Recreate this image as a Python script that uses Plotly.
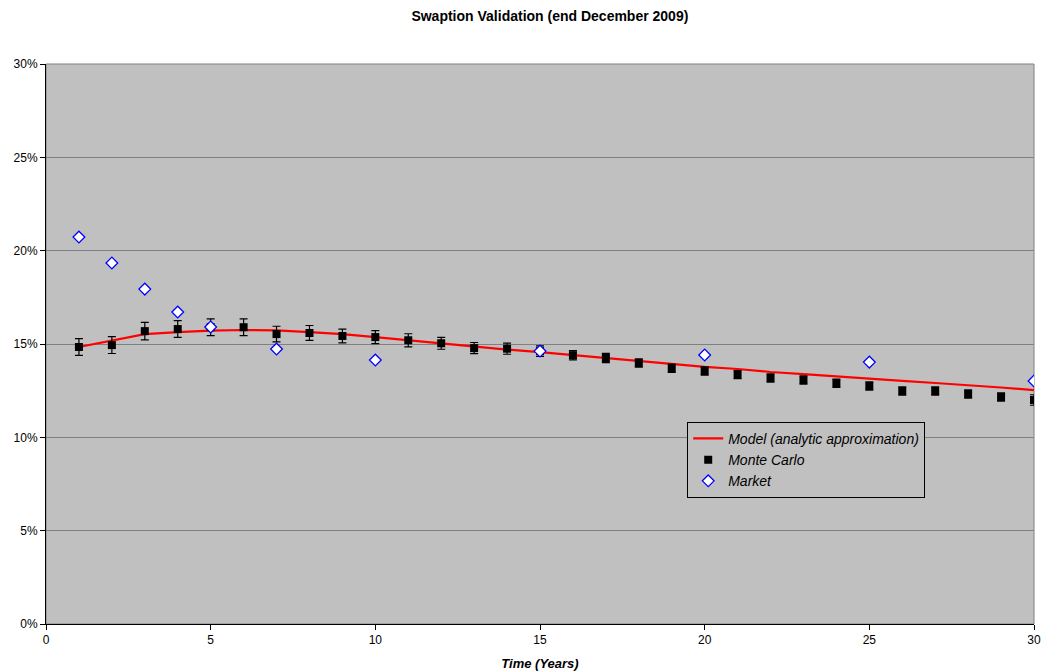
import plotly.graph_objects as go

years = list(range(1, 31))
model = [14.84, 15.20, 15.53, 15.64, 15.72, 15.75, 15.73, 15.64, 15.53, 15.37,
         15.20, 15.02, 14.86, 14.70, 14.57, 14.41, 14.25, 14.09, 13.93, 13.77,
         13.66, 13.50, 13.39, 13.26, 13.12, 13.02, 12.91, 12.80, 12.67, 12.53]
mc = [14.84, 14.94, 15.69, 15.80, 15.90, 15.90, 15.53, 15.59, 15.43, 15.37,
      15.20, 15.04, 14.78, 14.75, 14.62, 14.40, 14.25, 13.98, 13.70, 13.55,
      13.36, 13.18, 13.07, 12.90, 12.75, 12.48, 12.48, 12.32, 12.16, 12.00]
mc_err = [0.45, 0.45, 0.47, 0.45, 0.45, 0.45, 0.42, 0.40, 0.37, 0.35,
          0.35, 0.32, 0.30, 0.30, 0.28, 0.25, 0.25, 0.22, 0.22, 0.22,
          0.22, 0.22, 0.22, 0.22, 0.22, 0.22, 0.22, 0.22, 0.22, 0.28]
mkt_years = [1, 2, 3, 4, 5, 7, 10, 15, 20, 25, 30]
mkt = [20.73, 19.34, 17.94, 16.71, 15.91, 14.73, 14.14, 14.62, 14.41, 14.03, 13.02]

fig = go.Figure()
fig.add_trace(go.Scatter(x=years, y=model, mode="lines", name="Model (analytic approximation)",
                         line=dict(color="#FF0000", width=2.2)))
fig.add_trace(go.Scatter(x=years, y=mc, mode="markers", name="Monte Carlo",
                         marker=dict(symbol="square", size=8, color="black"),
                         error_y=dict(type="data", array=mc_err, visible=True,
                                      color="black", thickness=1.2, width=4)))
fig.add_trace(go.Scatter(x=mkt_years, y=mkt, mode="markers", name="Market",
                         marker=dict(symbol="diamond", size=9, color="white",
                                     line=dict(color="#0000FF", width=1.3))))

fig.update_layout(
    width=1043, height=672,
    margin=dict(l=46, r=9, t=64, b=48, autoexpand=False),
    paper_bgcolor="white", plot_bgcolor="#C0C0C0",
    font=dict(family="Liberation Sans, Arial", size=12, color="black"),
    title=dict(text="<b>Swaption Validation (end December 2009)</b>", x=0.510, xanchor="center",
               xref="paper", yref="container", y=0.976, yanchor="middle", font=dict(size=14),
               automargin=False),
    showlegend=True,
    legend=dict(x=0.649, y=0.361, xanchor="left", yanchor="top",
                bgcolor="#C0C0C0", bordercolor="black", borderwidth=1,
                font=dict(size=14, style="italic"), tracegroupgap=0),
    shapes=[dict(type="rect", xref="paper", yref="paper", x0=0, x1=1, y0=0, y1=1,
                 line=dict(color="#808080", width=1), layer="below")],
)
fig.update_xaxes(range=[0, 30], dtick=5, tick0=0, showgrid=False, zeroline=False,
                 showline=True, linecolor="black", linewidth=1, automargin=False,
                 ticks="outside", ticklen=5, tickcolor="black",
                 title=dict(text="<b><i>Time (Years)</i></b>", standoff=12, font=dict(size=13)))
fig.update_yaxes(range=[0, 30], dtick=5, tick0=0, ticksuffix="%", showgrid=True,
                 gridcolor="#808080", gridwidth=1, zeroline=False, automargin=False,
                 showline=True, linecolor="black", linewidth=1,
                 ticks="outside", ticklen=5, tickcolor="black")

fig.write_html("out.html", config={"displayModeBar": False},
               post_script="document.body.style.margin='0';")
